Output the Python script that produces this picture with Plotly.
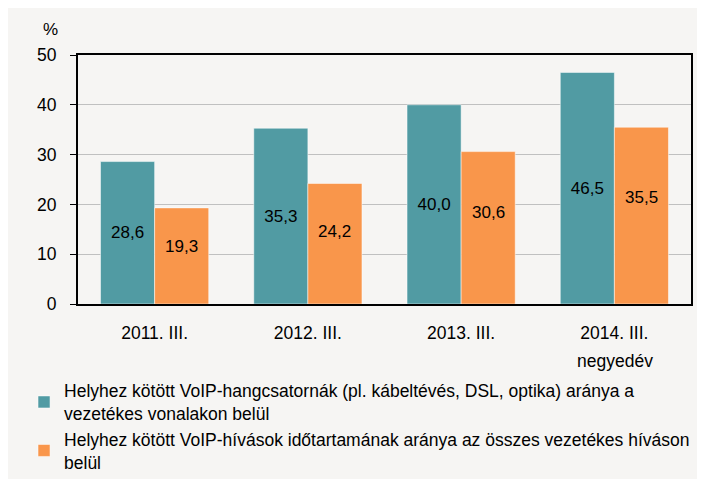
import plotly.graph_objects as go

categories = ["2011. III.", "2012. III.", "2013. III.", "2014. III."]
series1_name = "Helyhez kötött VoIP-hangcsatornák (pl. kábeltévés, DSL, optika) aránya a<br>vezetékes vonalakon belül"
series2_name = "Helyhez kötött VoIP-hívások időtartamának aránya az összes vezetékes híváson<br>belül"
series1 = [28.6, 35.3, 40.0, 46.5]
series2 = [19.3, 24.2, 30.6, 35.5]
y_ticks = [0, 10, 20, 30, 40, 50]

FONT = "Liberation Sans, Arial, sans-serif"
BG = "#f6f5f3"

def fmt(v):
    return f"{v:.1f}".replace(".", ",")

fig = go.Figure()
fig.add_trace(go.Bar(
    x=categories, y=series1, name=series1_name,
    marker=dict(color="#519ba3", line=dict(color="rgba(255,255,255,0.5)", width=1)),
    text=[fmt(v) for v in series1], textposition="inside", insidetextanchor="middle",
    textfont=dict(color="black", size=17, family=FONT), textangle=0,
))
fig.add_trace(go.Bar(
    x=categories, y=series2, name=series2_name,
    marker=dict(color="#f9964b", line=dict(color="rgba(255,255,255,0.5)", width=1)),
))

annotations = [
    dict(text="%", xref="paper", yref="paper", x=-0.029, y=1.056, xanchor="right",
         yanchor="bottom", showarrow=False, font=dict(size=17)),
    dict(text="negyedév", xref="paper", yref="paper", x=0.876, y=-0.182, xanchor="center",
         yanchor="top", showarrow=False, font=dict(size=17.5)),
]
for c, v in zip(categories, series2):
    annotations.append(dict(text=fmt(v), x=c, y=v * 0.6, xref="x", yref="y", xshift=27,
                            showarrow=False, font=dict(size=17, color="black")))

fig.update_layout(
    width=697, height=471,
    paper_bgcolor=BG, plot_bgcolor=BG,
    font=dict(family=FONT, size=17, color="black"),
    margin=dict(l=70, r=14, t=47, b=175, autoexpand=False),
    barmode="group", bargap=0.294, bargroupgap=0,
    uniformtext=dict(minsize=17, mode="show"),
    showlegend=True,
    legend=dict(
        xref="container", yref="container",
        x=0.023, y=0.2257, xanchor="left", yanchor="top",
        orientation="v", font=dict(size=17.5, family=FONT),
        bgcolor="rgba(0,0,0,0)", itemwidth=30,
    ),
    xaxis=dict(
        showline=True, linecolor="black", linewidth=2, mirror=True,
        ticks="", tickfont=dict(size=17.5), showgrid=False, ticklabelstandoff=12,
    ),
    yaxis=dict(
        range=[0, 50], tickvals=y_ticks, showline=True, linecolor="black", linewidth=2,
        mirror=True, ticks="outside", ticklen=6, tickcolor="black", tickwidth=1,
        showgrid=True, gridcolor="#c0c0c0", gridwidth=1, tickfont=dict(size=17.5),
        zeroline=False, ticklabelstandoff=10,
    ),
    annotations=annotations,
)

fig.write_html("out.html")
